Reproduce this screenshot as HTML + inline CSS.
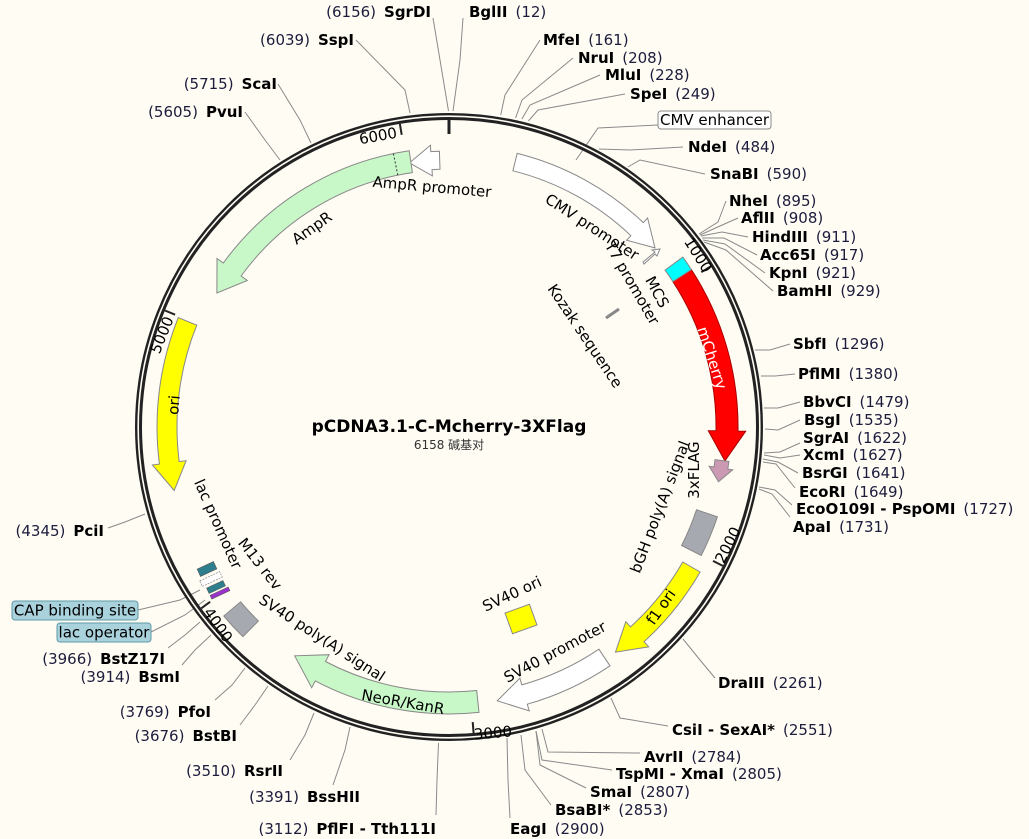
<!DOCTYPE html>
<html><head><meta charset="utf-8">
<style>
html,body{margin:0;padding:0;background:#fffcf4;}
svg{display:block;font-family:"DejaVu Sans","Liberation Sans","Noto Sans CJK SC",sans-serif;}
.e{font-size:15px;fill:#000;}
.e tspan.n{font-weight:normal;fill:#1c1c3c;}
.b{font-weight:bold;}
.f{font-size:15px;fill:#000;}
.ld{stroke:#8a8a8a;stroke-width:1;fill:none;}
.ft{stroke:#888;stroke-width:1;}
</style></head>
<body>
<svg width="1029" height="839" viewBox="0 0 1029 839" xmlns="http://www.w3.org/2000/svg">
<rect width="1029" height="839" fill="#fffcf4"/>
<g class="ld">
<polyline points="500.7,115 505,95 540,40"/>
<polyline points="515.6,118 522,100 573,58"/>
<polyline points="521.9,119 530,105 600,75"/>
<polyline points="528.4,121 538,110 625,94"/>
<polyline points="576,160 598,128 658,125"/>
<polyline points="598.8,149 630,150 683,147"/>
<polyline points="627.9,167 640,160 705,174"/>
<polyline points="699,234 718,222 726,201"/>
<polyline points="700,235 720,226 738,218"/>
<polyline points="701,236 722,232 748,237"/>
<polyline points="702,238 724,238 757,255"/>
<polyline points="703,240 725,244 765,273"/>
<polyline points="704,242 726,250 773,291"/>
<polyline points="755,350 770,350 790,344"/>
<polyline points="761,376 775,376 795,374"/>
<polyline points="764,408 778,408 800,402"/>
<polyline points="765,429 778,430 800,420"/>
<polyline points="764,453 780,452 800,443"/>
<polyline points="764,455 780,458 800,455"/>
<polyline points="763,459 778,462 798,473"/>
<polyline points="763,462 776,464 795,488"/>
<polyline points="759,487 775,490 792,505"/>
<polyline points="759,489 772,494 790,517"/>
<polyline points="683,639 700,660 715,678"/>
<polyline points="611,698 620,718 668,726"/>
<polyline points="542,729 548,752 640,753"/>
<polyline points="536,731 542,760 612,770"/>
<polyline points="536,731 540,765 586,788"/>
<polyline points="521,735 525,770 551,805"/>
<polyline points="507,738 508,780 510,818"/>
<polyline points="438.5,743 437,780 436,815"/>
<polyline points="350,727 345,750 333,785"/>
<polyline points="314,713 305,735 290,760"/>
<polyline points="268,686 255,705 240,725"/>
<polyline points="245,668 232,685 215,700"/>
<polyline points="211,635 195,650 182,665"/>
<polyline points="200,622 185,635 168,648"/>
<polyline points="200,590 180,600 138,610"/>
<polyline points="205,600 185,615 151,632"/>
<polyline points="145,514 125,522 108,528"/>
<polyline points="280,160 265,140 245,112"/>
<polyline points="311,143 300,120 278,84"/>
<polyline points="410,113 405,90 356,40"/>
<polyline points="448.5,111 440,60 433,18"/>
<polyline points="453,111 460,60 463,18"/>
</g>
<circle cx="449" cy="427" r="310.5" fill="none" stroke="#222" stroke-width="7"/>
<circle cx="449" cy="427" r="310.8" fill="none" stroke="#fffcf4" stroke-width="1.6"/>
<line x1="449" y1="117" x2="449" y2="134" stroke="#222" stroke-width="3"/>
<g class="ft">
<path fill="#fff" d="M517.2,153.4 A282,282 0 0 1 643.3,222.6 L647.6,218 L655,247.9 L626.6,240.2 L630.9,235.7 A264,264 0 0 0 512.9,170.8 Z"/>
<path fill="#fff" d="M439.4,151.2 A276,276 0 0 0 430.8,151.6 L430.4,145.3 L409.5,162.9 L432.4,175.9 L432,169.6 A258,258 0 0 1 440,169.2 Z"/>
<path fill="#c8f7c8" d="M409.2,150.8 A279,279 0 0 0 223.3,263 L217,258.5 L216.9,293 L247.3,280.5 L241.1,276 A257,257 0 0 1 412.4,172.6 Z"/>
<path fill="#ffff00" d="M178.3,317.6 A292,292 0 0 0 159.4,464.1 L152.4,465 L174.2,490.5 L186.1,460.7 L179.2,461.6 A272,272 0 0 1 196.8,325.1 Z"/>
<path fill="#ff0000" stroke="#a00" d="M691.4,269.6 A289,289 0 0 1 738,431.1 L745.7,431.2 L724.9,460.9 L708.3,430.7 L716,430.8 A267,267 0 0 0 672.9,281.6 Z"/>
<path fill="#00ffff" d="M682.8,257.1 A289,289 0 0 1 691.4,269.6 L672.9,281.6 A267,267 0 0 0 665,270.1 Z"/>
<path fill="#cc99b3" d="M728.9,461.4 A282,282 0 0 1 727.8,469.1 L732.7,469.8 L718.5,481.8 L709.2,466.3 L714,467 A268,268 0 0 0 715,459.7 Z"/>
<path fill="#a6a9b0" d="M717.4,516.8 A283,283 0 0 1 701.2,555.5 L681.6,545.5 A261,261 0 0 0 696.5,509.8 Z"/>
<path fill="#ffff00" d="M700.1,572 A290,290 0 0 1 644,641.7 L648.7,646.9 L615.5,652.1 L625.8,621.7 L630.5,626.9 A270,270 0 0 0 682.8,562 Z"/>
<path fill="#fff" d="M610,665.8 A288,288 0 0 1 527.3,704.2 L529.2,710.9 L497.3,700.8 L519.9,678.2 L521.8,684.9 A268,268 0 0 0 598.9,649.2 Z"/>
<path fill="#c8f7c8" d="M479,712.4 A287,287 0 0 1 315.3,680.9 L311.7,687.7 L294.7,655.8 L329.1,654.7 L325.5,661.5 A265,265 0 0 0 476.7,690.5 Z"/>
<path fill="#a6a9b0" d="M242.9,636.7 A294,294 0 0 1 223.8,616 L240.6,601.8 A272,272 0 0 0 258.4,621 Z"/>
<path fill="#fff" d="M643,262 L655,252 L652,250 L660,249 L657,256 L655,254 L644,264 Z"/>
</g>
<line x1="397.8" y1="175.2" x2="393.4" y2="153.6" stroke="#333" stroke-dasharray="2,2"/>
<g stroke="#222" stroke-width="2">
<line x1="710.7" y1="266.4" x2="701.3" y2="272.2"/>
<line x1="722.8" y1="565.9" x2="713" y2="560.9"/>
<line x1="473.6" y1="733" x2="472.7" y2="722.1"/>
<line x1="201.3" y1="608.3" x2="210.1" y2="601.8"/>
<line x1="165" y1="310.5" x2="175.1" y2="314.7"/>
<line x1="399.9" y1="124" x2="401.7" y2="134.8"/>
</g>
<rect x="508" y="608" width="26" height="22" fill="#ffff00" stroke="#888" transform="rotate(-20 521 619)"/>
<line x1="606" y1="318" x2="619" y2="309" stroke="#888" stroke-width="3"/>
<rect x="198" y="565" width="18" height="8" fill="#2e7f8e" stroke="#555" stroke-width="0.6" transform="rotate(-25 207 569)"/>
<rect x="200" y="576" width="22" height="6" fill="#fff" stroke="#777" stroke-width="0.6" stroke-dasharray="2,1" transform="rotate(-25 211 579)"/>
<rect x="207" y="584" width="18" height="6" fill="#2e7f8e" stroke="#555" stroke-width="0.6" transform="rotate(-25 216 587)"/>
<rect x="210" y="591" width="20" height="4" fill="#9933cc" stroke="#555" stroke-width="0.6" transform="rotate(-25 220 593)"/>
<g class="f">
<text x="378" y="141" text-anchor="middle" transform="rotate(-10 378 136)">6000</text>
<text x="698" y="260" text-anchor="middle" transform="rotate(58 698 255)">1000</text>
<text x="728" y="550" text-anchor="middle" transform="rotate(-63 728 545)">2000</text>
<text x="493" y="738" text-anchor="middle" transform="rotate(-5 493 733)">3000</text>
<text x="218" y="630" text-anchor="middle" transform="rotate(55 218 625)">4000</text>
<text x="162" y="340" text-anchor="middle" transform="rotate(-68 162 335)">5000</text>
</g>
<g class="f">
<text x="432" y="192" text-anchor="middle" transform="rotate(5 432 187)">AmpR promoter</text>
<text x="312" y="233" text-anchor="middle" transform="rotate(-35 312 228)">AmpR</text>
<text x="592" y="232" text-anchor="middle" transform="rotate(33 592 227)">CMV promoter</text>
<text x="632" y="288" text-anchor="middle" transform="rotate(60 632 283)">T7 promoter</text>
<text x="657" y="297" text-anchor="middle" transform="rotate(62 657 292)">MCS</text>
<text x="585" y="341" text-anchor="middle" transform="rotate(56 585 336)">Kozak sequence</text>
<text x="712" y="363" text-anchor="middle" style="fill:#fff" transform="rotate(72 712 358)">mCherry</text>
<text x="694" y="475" text-anchor="middle" transform="rotate(-90 694 470)">3xFLAG</text>
<text x="660" y="512" text-anchor="middle" transform="rotate(-69 660 507)">bGH poly(A) signal</text>
<text x="661" y="612" text-anchor="middle" transform="rotate(-55 661 607)">f1 ori</text>
<text x="555" y="657" text-anchor="middle" transform="rotate(-28 555 652)">SV40 promoter</text>
<text x="512" y="599" text-anchor="middle" transform="rotate(-25 512 594)">SV40 ori</text>
<text x="403" y="707" text-anchor="middle" transform="rotate(10 403 702)">NeoR/KanR</text>
<text x="322" y="643" text-anchor="middle" transform="rotate(33 322 638)">SV40 poly(A) signal</text>
<text x="260" y="569" text-anchor="middle" transform="rotate(52 260 564)">M13 rev</text>
<text x="218" y="529" text-anchor="middle" transform="rotate(66 218 524)">lac promoter</text>
<text x="174" y="410" text-anchor="middle" transform="rotate(-85 174 405)">ori</text>
</g>
<rect x="658" y="111" width="113" height="18" rx="3" fill="#fff" stroke="#888"/>
<text class="f" x="714.5" y="125" text-anchor="middle" font-size="14">CMV enhancer</text>
<rect x="12" y="601" width="126" height="19" rx="3" fill="#a9d2dd" stroke="#5e9aa8"/>
<text class="f" x="75" y="615.5" text-anchor="middle">CAP binding site</text>
<rect x="57" y="623" width="94" height="19" rx="3" fill="#a9d2dd" stroke="#5e9aa8"/>
<text class="f" x="104" y="637.5" text-anchor="middle">lac operator</text>
<text x="449" y="432" text-anchor="middle" font-size="17" font-weight="bold">pCDNA3.1-C-Mcherry-3XFlag</text>
<text x="449" y="449" text-anchor="middle" font-size="12" fill="#333">6158 碱基对</text>
<g class="e">
<text x="543" y="45"><tspan class="b">MfeI</tspan><tspan class="n" dx="8">(161)</tspan></text>
<text x="578" y="63"><tspan class="b">NruI</tspan><tspan class="n" dx="8">(208)</tspan></text>
<text x="605" y="80"><tspan class="b">MluI</tspan><tspan class="n" dx="8">(228)</tspan></text>
<text x="630" y="99"><tspan class="b">SpeI</tspan><tspan class="n" dx="8">(249)</tspan></text>
<text x="688" y="152"><tspan class="b">NdeI</tspan><tspan class="n" dx="8">(484)</tspan></text>
<text x="710" y="179"><tspan class="b">SnaBI</tspan><tspan class="n" dx="8">(590)</tspan></text>
<text x="729" y="206"><tspan class="b">NheI</tspan><tspan class="n" dx="8">(895)</tspan></text>
<text x="741" y="223"><tspan class="b">AflII</tspan><tspan class="n" dx="8">(908)</tspan></text>
<text x="752" y="242"><tspan class="b">HindIII</tspan><tspan class="n" dx="8">(911)</tspan></text>
<text x="760" y="260"><tspan class="b">Acc65I</tspan><tspan class="n" dx="8">(917)</tspan></text>
<text x="769" y="278"><tspan class="b">KpnI</tspan><tspan class="n" dx="8">(921)</tspan></text>
<text x="777" y="296"><tspan class="b">BamHI</tspan><tspan class="n" dx="8">(929)</tspan></text>
<text x="793" y="349"><tspan class="b">SbfI</tspan><tspan class="n" dx="8">(1296)</tspan></text>
<text x="798" y="379"><tspan class="b">PflMI</tspan><tspan class="n" dx="8">(1380)</tspan></text>
<text x="803" y="407"><tspan class="b">BbvCI</tspan><tspan class="n" dx="8">(1479)</tspan></text>
<text x="804" y="425"><tspan class="b">BsgI</tspan><tspan class="n" dx="8">(1535)</tspan></text>
<text x="803" y="443"><tspan class="b">SgrAI</tspan><tspan class="n" dx="8">(1622)</tspan></text>
<text x="803" y="460"><tspan class="b">XcmI</tspan><tspan class="n" dx="8">(1627)</tspan></text>
<text x="802" y="478"><tspan class="b">BsrGI</tspan><tspan class="n" dx="8">(1641)</tspan></text>
<text x="799" y="497"><tspan class="b">EcoRI</tspan><tspan class="n" dx="8">(1649)</tspan></text>
<text x="796" y="514"><tspan class="b">EcoO109I - PspOMI</tspan><tspan class="n" dx="8">(1727)</tspan></text>
<text x="793" y="532"><tspan class="b">ApaI</tspan><tspan class="n" dx="8">(1731)</tspan></text>
<text x="718" y="688"><tspan class="b">DraIII</tspan><tspan class="n" dx="8">(2261)</tspan></text>
<text x="672" y="735"><tspan class="b">CsiI - SexAI*</tspan><tspan class="n" dx="8">(2551)</tspan></text>
<text x="644" y="762"><tspan class="b">AvrII</tspan><tspan class="n" dx="8">(2784)</tspan></text>
<text x="616" y="779"><tspan class="b">TspMI - XmaI</tspan><tspan class="n" dx="8">(2805)</tspan></text>
<text x="590" y="797"><tspan class="b">SmaI</tspan><tspan class="n" dx="8">(2807)</tspan></text>
<text x="555" y="815"><tspan class="b">BsaBI*</tspan><tspan class="n" dx="8">(2853)</tspan></text>
<text x="510" y="834"><tspan class="b">EagI</tspan><tspan class="n" dx="8">(2900)</tspan></text>
<text x="469" y="17"><tspan class="b">BglII</tspan><tspan class="n" dx="8">(12)</tspan></text>
</g>
<g class="e" text-anchor="end">
<text x="431" y="17"><tspan class="n">(6156)</tspan><tspan class="b" dx="8">SgrDI</tspan></text>
<text x="354" y="45"><tspan class="n">(6039)</tspan><tspan class="b" dx="8">SspI</tspan></text>
<text x="277" y="89"><tspan class="n">(5715)</tspan><tspan class="b" dx="8">ScaI</tspan></text>
<text x="243" y="117"><tspan class="n">(5605)</tspan><tspan class="b" dx="8">PvuI</tspan></text>
<text x="104" y="536"><tspan class="n">(4345)</tspan><tspan class="b" dx="8">PciI</tspan></text>
<text x="165" y="664"><tspan class="n">(3966)</tspan><tspan class="b" dx="8">BstZ17I</tspan></text>
<text x="180" y="682"><tspan class="n">(3914)</tspan><tspan class="b" dx="8">BsmI</tspan></text>
<text x="211" y="717"><tspan class="n">(3769)</tspan><tspan class="b" dx="8">PfoI</tspan></text>
<text x="237" y="741"><tspan class="n">(3676)</tspan><tspan class="b" dx="8">BstBI</tspan></text>
<text x="283" y="776"><tspan class="n">(3510)</tspan><tspan class="b" dx="8">RsrII</tspan></text>
<text x="360" y="802"><tspan class="n">(3391)</tspan><tspan class="b" dx="8">BssHII</tspan></text>
<text x="436" y="834"><tspan class="n">(3112)</tspan><tspan class="b" dx="8">PflFI - Tth111I</tspan></text>
</g>
</svg>
</body></html>
